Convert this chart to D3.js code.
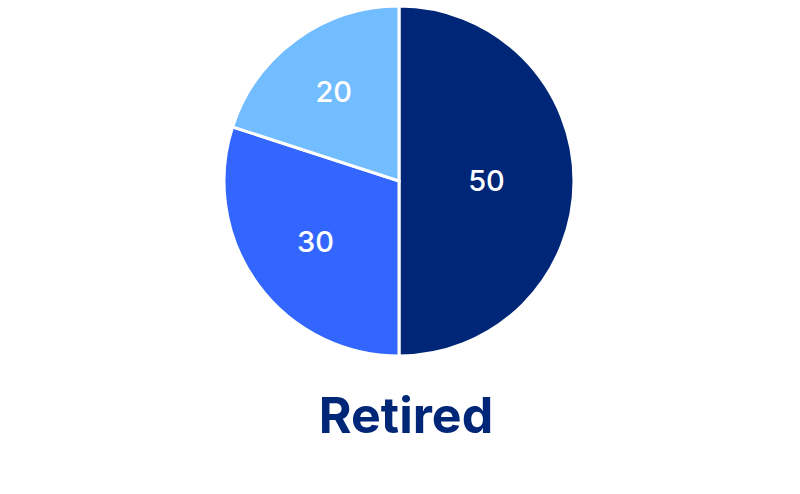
<!DOCTYPE html>
<html>
<head>
<meta charset="utf-8">
<script src="https://cdn.jsdelivr.net/npm/d3@7"></script>
<style>
  html, body { margin: 0; padding: 0; background: #fff; }
</style>
</head>
<body>
<div id="chart"></div>
<script>
const categories = ["Segment A", "Segment B", "Segment C"];
const values = [50, 30, 20];
const colors = ["#002677", "#3366ff", "#72bdff"];
const title = "Retired";

const width = 800;
const height = 494;
const radius = 175;
const cx = 399;
const cy = 181;

const svg = d3.select("#chart")
  .append("svg")
  .attr("width", width)
  .attr("height", height);

const g = svg.append("g")
  .attr("transform", "translate(" + cx + "," + cy + ")");

const color = d3.scaleOrdinal()
  .domain(categories)
  .range(colors);

const pie = d3.pie()
  .sort(null)
  .value(d => d.value);

const arcs = pie(categories.map((c, i) => ({ category: c, value: values[i] })));
const total = d3.sum(values);

const arc = d3.arc()
  .innerRadius(0)
  .outerRadius(radius);

g.selectAll("path")
  .data(arcs)
  .enter()
  .append("path")
  .attr("d", arc)
  .attr("fill", d => color(d.data.category))
  .attr("stroke", "#fff")
  .attr("stroke-width", 3);

// smaller slices push their label a bit further out
const labelPos = d => {
  const share = d.data.value / total;
  const r = radius * (0.5 + 0.45 * (0.5 - share));
  return d3.arc().innerRadius(r).outerRadius(r).centroid(d);
};

g.selectAll(".label")
  .data(arcs)
  .enter()
  .append("text")
  .attr("class", "label")
  .attr("transform", d => "translate(" + labelPos(d) + ")")
  .attr("dy", "0.36em")
  .attr("text-anchor", "middle")
  .attr("fill", "#fff")
  .style("font-family", "Inter, 'Noto Sans', sans-serif")
  .style("font-size", "29px")
  .style("font-weight", "500")
  .text(d => d.data.value);

svg.append("text")
  .attr("x", cx + 7)
  .attr("y", 433)
  .attr("text-anchor", "middle")
  .attr("fill", "#002677")
  .style("font-family", "Inter, 'Noto Sans', sans-serif")
  .style("font-size", "50px")
  .style("font-weight", "700")
  .text(title);
</script>
</body>
</html>
